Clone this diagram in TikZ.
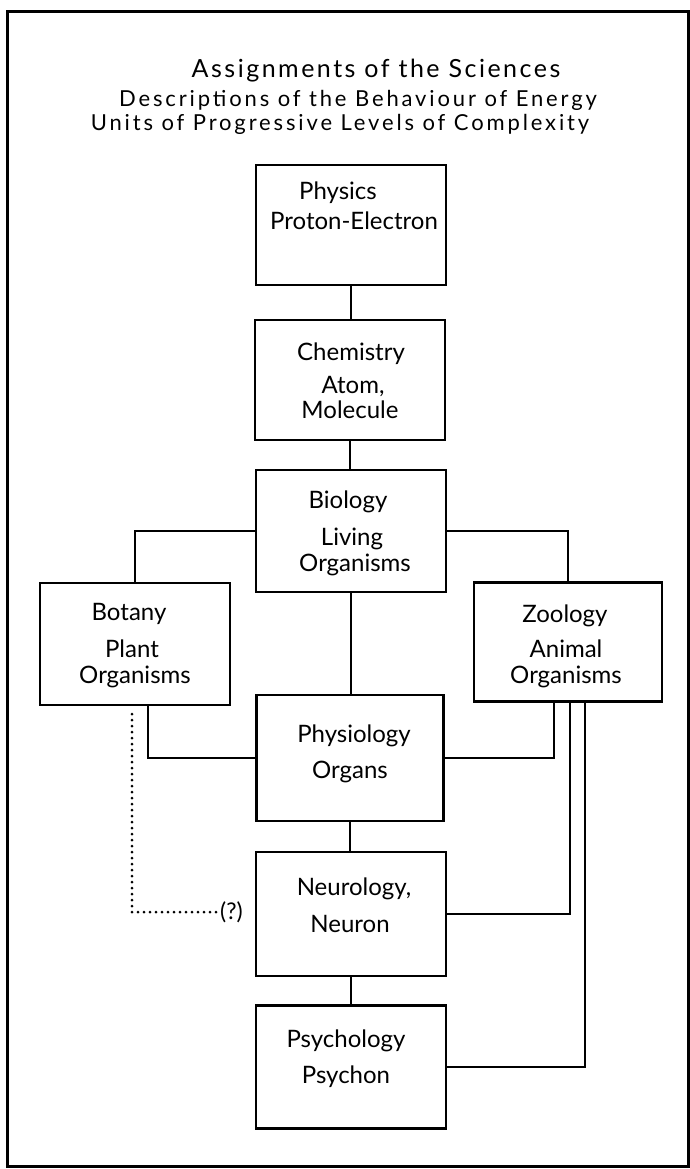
\documentclass[tikz,border=0pt]{standalone}
\usepackage{fontspec}
\setmainfont{Lato}

\begin{document}
\begin{tikzpicture}[x=1pt, y=-1pt,
  box/.style={draw, line width=2.8pt, inner sep=0pt, minimum width=190pt, minimum height=122pt},
  lbl/.style={anchor=base, inner sep=0pt, font=\fontsize{24}{26}\selectfont},
  heading/.style={anchor=base, inner sep=0pt, font=\fontsize{22}{23}\selectfont\addfontfeature{LetterSpace=13}},
  link/.style={line width=2.2pt},
  maybe/.style={line width=3pt, line cap=round, dash pattern=on 0pt off 6pt},
  ]
\useasboundingbox (0,0) rectangle (690,1169);
\draw[line width=3pt] (7,12) rectangle (688,1166);

% headings
\node[heading, font=\fontsize{25}{26}\selectfont\addfontfeature{LetterSpace=10}] (t1) at (376,78) {Assignments of the Sciences};
\node[heading] (t2) at (358,107) {Descriptions of the Behaviour of Energy};
\node[heading] (t3) at (340,131) {Units of Progressive Levels of Complexity};

% boxes
\node[box, minimum height=120pt] (phys) at (351,225) {};
\node[box, minimum height=120pt] (chem) at (350,380) {};
\node[box] (bio) at (351,531) {};
\node[box] (bot) at (135,644) {};
\node[box, minimum width=188pt, minimum height=119pt] (zoo) at (568,642) {};
\node[box, minimum width=187pt, minimum height=126pt] (physio) at (350,758) {};
\node[box, minimum height=124pt] (neuro) at (351,914) {};
\node[box, minimum height=123pt] (psych) at (351,1067) {};

% texts
\node[lbl] (physA) at (338,200) {Physics};
\node[lbl] (physB) at (354,229) {Proton-Electron};
\node[lbl] (chemA) at (351,360) {Chemistry};
\node[lbl] (chemB) at (353,393) {Atom,};
\node[lbl] (chemC) at (350,418) {Molecule};
\node[lbl] (bioA) at (348,508) {Biology};
\node[lbl] (bioB) at (352,545) {Living};
\node[lbl] (bioC) at (355,571) {Organisms};
\node[lbl] (botA) at (129,620) {Botany};
\node[lbl] (botB) at (132,657) {Plant};
\node[lbl] (botC) at (135,683) {Organisms};
\node[lbl] (zooA) at (565,622) {Zoology};
\node[lbl] (zooB) at (566,657) {Animal};
\node[lbl] (zooC) at (566,683) {Organisms};
\node[lbl] (physioA) at (354,742) {Physiology};
\node[lbl] (physioB) at (350,778) {Organs};
\node[lbl] (neuroA) at (354,895) {Neurology,};
\node[lbl] (neuroB) at (350,932) {Neuron};
\node[lbl] (psychA) at (346,1047) {Psychology};
\node[lbl] (psychB) at (346,1083) {Psychon};

% connectors
\draw[link] (phys.south) -- (phys.south |- chem.north);
\draw[link] (chem.south) -- (chem.south |- bio.north);
\draw[link] (bio.west) -| (bot.north);
\draw[link] (bio.east) -| (zoo.north);
\draw[link] (bio.south) -- (bio.south |- physio.north);
\draw[link] (physio.south) -- (physio.south |- neuro.north);
\draw[link] (neuro.south) -- (neuro.south |- psych.north);

\coordinate (botOut) at (148,705);
\coordinate (zooOutA) at (554,702);
\coordinate (zooOutB) at (570,702);
\coordinate (zooOutC) at (585,702);
\draw[link] (botOut) |- (physio.west);
\draw[link] (zooOutA) |- (physio.east);
\draw[link] (zooOutB) |- (neuro.east);
\draw[link] (zooOutC) |- (psych.east);

% doubtful link
\coordinate (botDot) at (132,714);
\node[anchor=west, inner sep=1pt, font=\fontsize{23}{24}\selectfont] (ask) at (219,912) {(?)};
\draw[maybe] (botDot) |- (ask.west);
\end{tikzpicture}
\end{document}
